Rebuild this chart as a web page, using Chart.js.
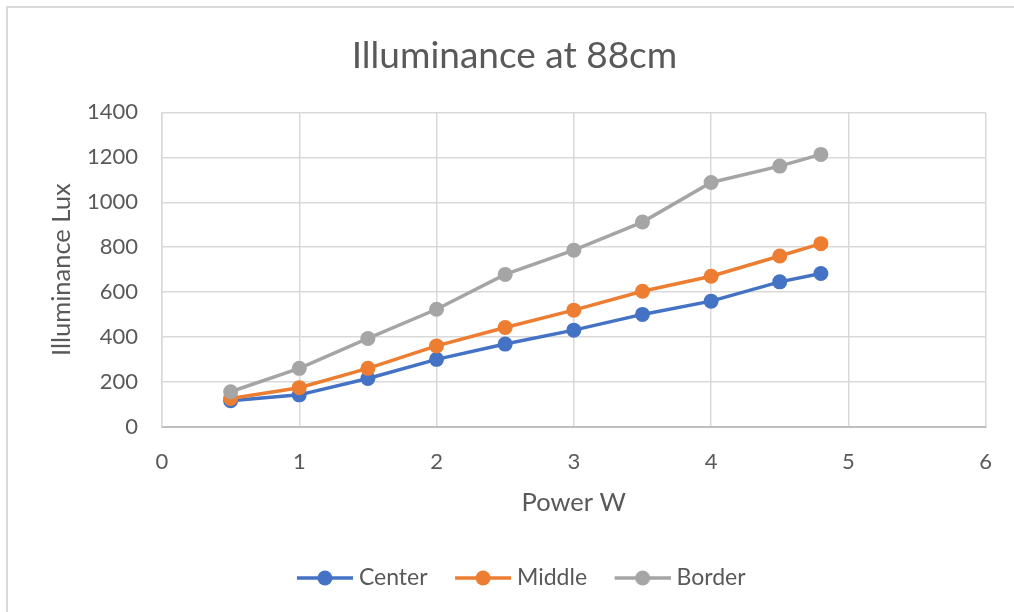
<!DOCTYPE html>
<html>
<head>
<meta charset="utf-8">
<script src="https://cdn.jsdelivr.net/npm/chart.js@4.4.1/dist/chart.umd.min.js"></script>
<style>
html,body{margin:0;padding:0;background:#fff;}
#wrap{position:relative;width:1014px;height:612px;}
</style>
</head>
<body>
<div id="wrap"><canvas id="c" width="1014" height="612"></canvas></div>
<script>
const power = [0.5, 1, 1.5, 2, 2.5, 3, 3.5, 4, 4.5, 4.8];
const centerLux = [117, 143, 216, 301, 369, 431, 501, 560, 646, 683];
const middleLux = [127, 175, 261, 361, 443, 520, 604, 671, 761, 816];
const borderLux = [157, 261, 394, 524, 679, 787, 912, 1088, 1161, 1213];
const seriesNames = ['Center', 'Middle', 'Border'];
const seriesColors = ['#4472C4', '#ED7D31', '#A5A5A5'];
const xTicks = [0, 1, 2, 3, 4, 5, 6];
const yTicks = [0, 200, 400, 600, 800, 1000, 1200, 1400];
const titleText = 'Illuminance at 88cm';
const xTitle = 'Power W';
const yTitle = 'Illuminance Lux';

const FONT = 'Lato';
const TXT = '#595959';

function pts(ys){ return power.map((x,i)=>({x:x, y:ys[i]})); }

// legend glyph: line with a marker in its middle
const ICON_W = 75, ICON_H = 18, LINE_LEN = 56;
function legendIcon(color){
  const cv = document.createElement('canvas');
  cv.width = ICON_W; cv.height = ICON_H;
  const g = cv.getContext('2d');
  g.strokeStyle = color; g.lineWidth = 3.5; g.lineCap = 'butt';
  g.beginPath(); g.moveTo(ICON_W - LINE_LEN, ICON_H/2); g.lineTo(ICON_W, ICON_H/2); g.stroke();
  g.fillStyle = color; g.beginPath(); g.arc(ICON_W - LINE_LEN/2, ICON_H/2, 7.5, 0, Math.PI*2); g.fill();
  return cv;
}
const icons = seriesColors.map(legendIcon);

const frame = {
  id: 'frame',
  beforeDraw(chart){
    const ctx = chart.ctx;
    ctx.save();
    ctx.strokeStyle = '#d9d9d9'; ctx.lineWidth = 2;
    ctx.beginPath(); ctx.moveTo(7, 612); ctx.lineTo(7, 7); ctx.lineTo(1014, 7); ctx.stroke();
    ctx.restore();
  }
};

const datasets = [centerLux, middleLux, borderLux].map((ys, i) => ({
  label: seriesNames[i],
  data: pts(ys),
  borderColor: seriesColors[i],
  backgroundColor: seriesColors[i],
  pointBackgroundColor: seriesColors[i],
  pointBorderColor: seriesColors[i],
  pointBorderWidth: 0,
  pointRadius: 7.5,
  pointHoverRadius: 7.5,
  borderWidth: 3.5,
  showLine: true,
  tension: 0,
  order: 3 - i
}));

new Chart(document.getElementById('c'), {
  type: 'scatter',
  data: { datasets },
  plugins: [frame],
  options: {
    responsive: false,
    animation: false,
    events: [],
    layout: { padding: { left: 40, right: 25, top: 0, bottom: 12.5 } },
    plugins: {
      tooltip: { enabled: false },
      title: {
        display: true, text: titleText, color: TXT,
        font: { family: FONT, size: 37, weight: 'normal' },
        padding: { top: 34, bottom: 34 }
      },
      legend: {
        position: 'bottom',
        labels: {
          usePointStyle: true,
          pointStyleWidth: 64,
          boxHeight: 18,
          padding: 14,
          color: TXT,
          font: { family: FONT, size: 23 },
          generateLabels(chart){
            return seriesNames.map((n, i) => ({
              text: n, pointStyle: icons[i], fillStyle: seriesColors[i],
              strokeStyle: seriesColors[i], lineWidth: 0, hidden: false,
              datasetIndex: i, fontColor: TXT
            }));
          }
        }
      }
    },
    scales: {
      x: {
        type: 'linear', min: 0, max: 6,
        afterBuildTicks(s){ s.ticks = xTicks.map(v=>({value:v})); },
        afterFit(s){ s.height = 125.5; },
        grid: { color: '#d9d9d9', lineWidth: 1.5, drawTicks: false },
        border: { color: '#bfbfbf', width: 2 },
        ticks: { color: TXT, padding: 22, font: { family: FONT, size: 22 }, callback: v => String(v) },
        title: { display: true, text: xTitle, color: TXT, font: { family: FONT, size: 25.5 }, padding: { top: 0, bottom: 34 } }
      },
      y: {
        type: 'linear', min: 0, max: 1400,
        afterBuildTicks(s){ s.ticks = yTicks.map(v=>({value:v})); },
        afterFit(s){ s.width = 122; },
        grid: { color: '#d9d9d9', lineWidth: 1.5, drawTicks: false },
        border: { color: '#d9d9d9', width: 1.5 },
        ticks: { color: TXT, padding: 24, font: { family: FONT, size: 22 }, callback: v => String(v) },
        title: { display: true, text: yTitle, color: TXT, font: { family: FONT, size: 25.5 }, padding: { top: 6.7, bottom: 0 } }
      }
    }
  }
});
</script>
</body>
</html>
